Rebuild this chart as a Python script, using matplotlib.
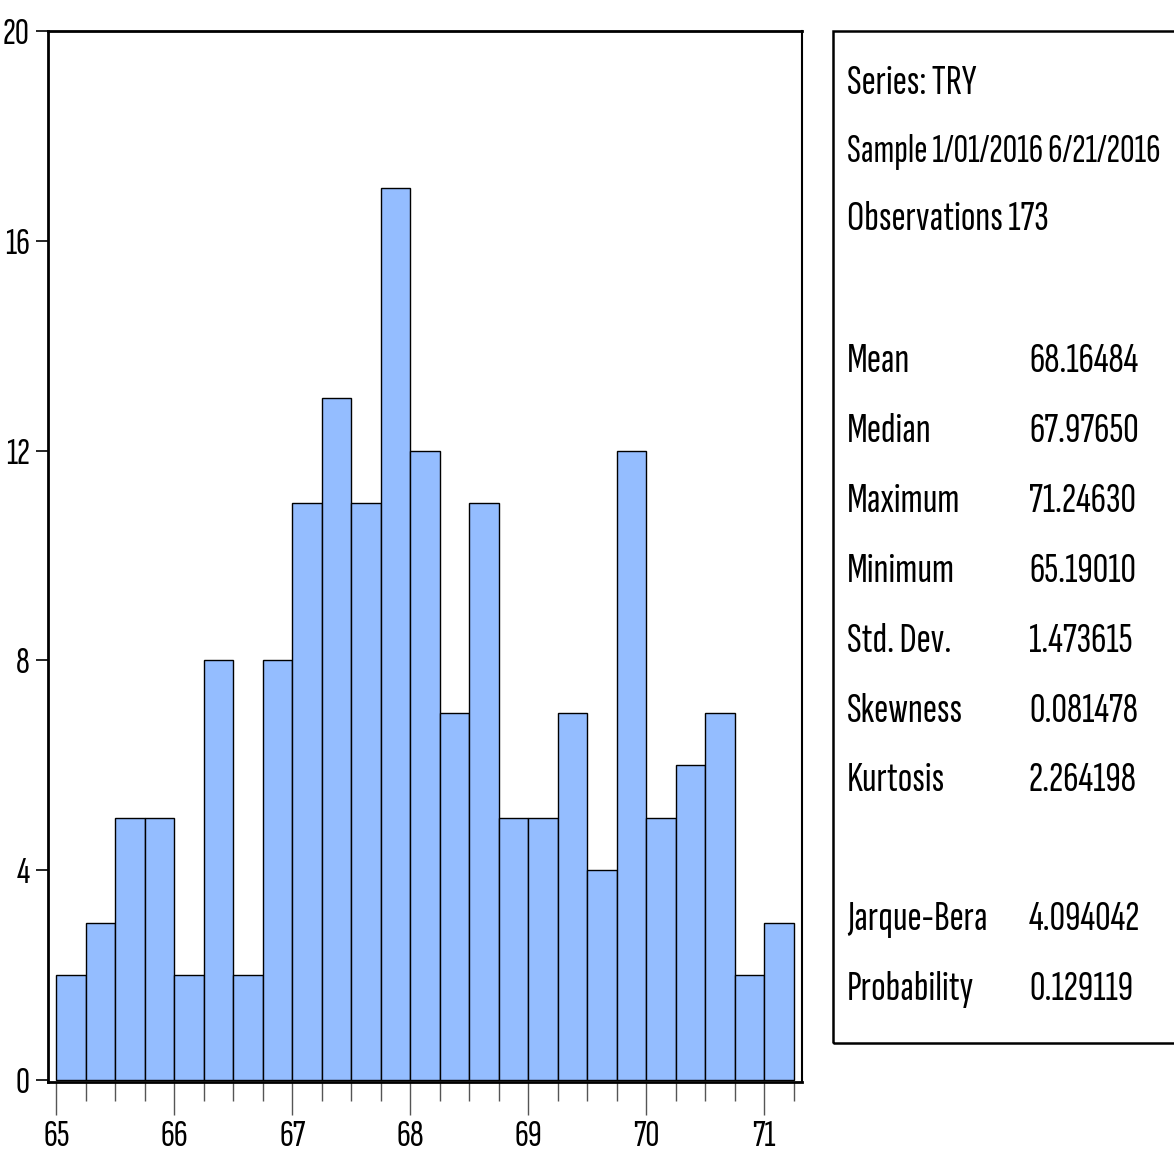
import matplotlib.pyplot as plt
from matplotlib.patches import Rectangle
from matplotlib.ticker import MultipleLocator

plt.rcParams['font.family'] = ['Sofia Sans Extra Condensed', 'Liberation Sans', 'DejaVu Sans']

# histogram of TRY, bins of width 0.25
bin_left = [65.00, 65.25, 65.50, 65.75, 66.00, 66.25, 66.50, 66.75, 67.00,
            67.25, 67.50, 67.75, 68.00, 68.25, 68.50, 68.75, 69.00, 69.25,
            69.50, 69.75, 70.00, 70.25, 70.50, 70.75, 71.00]
counts = [2, 3, 5, 5, 2, 8, 2, 8, 11, 13, 11, 17, 12, 7, 11,
          5, 5, 7, 4, 12, 5, 6, 7, 2, 3]
bin_width = 0.25

header_lines = ["Series: TRY", "Sample 1/01/2016 6/21/2016", "Observations 173"]
stat_names = ["Mean", "Median", "Maximum", "Minimum", "Std. Dev.",
              "Skewness", "Kurtosis"]
stat_values = ["68.16484", "67.97650", "71.24630", "65.19010", "1.473615",
               "0.081478", "2.264198"]
test_names = ["Jarque-Bera", "Probability"]
test_values = ["4.094042", "0.129119"]

W, H = 1174, 1156
fig = plt.figure(figsize=(W / 100, H / 100), dpi=100)


def fx(px):
    return px / W


def fy(py):
    return 1 - py / H


ax = fig.add_axes([fx(48), fy(1082), fx(802) - fx(48), fy(31) - fy(1082)])
ax.bar(bin_left, counts, width=bin_width, align='edge',
       color='#94BDFF', edgecolor='black', linewidth=1.0)

ax.set_xlim(64.93, 71.32)
ax.set_ylim(-0.04, 20)
ax.yaxis.set_major_locator(MultipleLocator(4))
ax.xaxis.set_major_locator(MultipleLocator(1))
ax.xaxis.set_minor_locator(MultipleLocator(0.25))

ax.tick_params(axis='y', direction='out', length=9, width=1.2, labelsize=28, pad=4)
ax.tick_params(axis='x', which='major', direction='out', length=24, width=1.0,
               labelsize=28, pad=3, color='#555555')
ax.tick_params(axis='x', which='minor', direction='out', length=14, width=1.0,
               color='#555555')

for side in ['left', 'top', 'bottom']:
    ax.spines[side].set_linewidth(2.0)
ax.spines['right'].set_linewidth(1.5)

# statistics panel on the right
fig.patches.append(Rectangle((fx(833), fy(1043)), fx(1200) - fx(833), fy(31) - fy(1043),
                             transform=fig.transFigure, fill=False,
                             edgecolor='black', linewidth=1.8))

fs = 31
header_sizes = [fs, 29, fs]
for i, line in enumerate(header_lines):
    fig.text(fx(847), fy(84 + 68 * i), line, fontsize=header_sizes[i],
             va='center', ha='left')

for i, (name, val) in enumerate(zip(stat_names, stat_values)):
    y = fy(362 + 69.8 * i)
    fig.text(fx(847), y, name, fontsize=fs, va='center', ha='left')
    fig.text(fx(1029), y, val, fontsize=fs, va='center', ha='left')

for i, (name, val) in enumerate(zip(test_names, test_values)):
    y = fy(920 + 70 * i)
    fig.text(fx(847), y, name, fontsize=fs, va='center', ha='left')
    fig.text(fx(1029), y, val, fontsize=fs, va='center', ha='left')

fig.savefig('out.png', dpi=100)
